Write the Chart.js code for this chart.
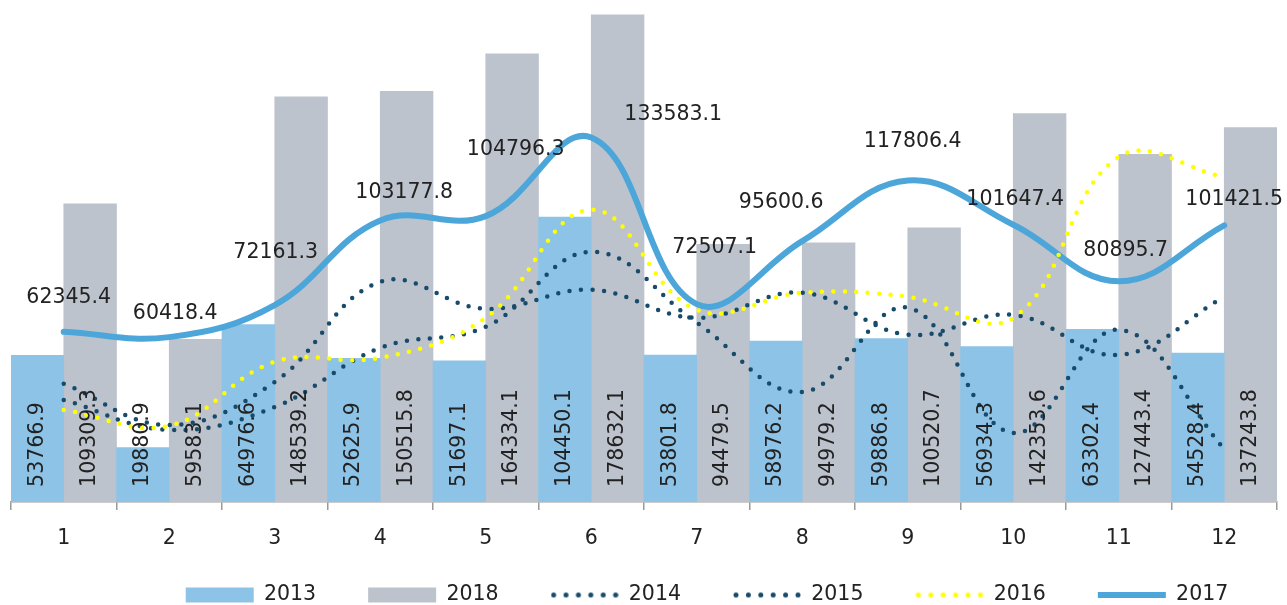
<!DOCTYPE html>
<html>
<head>
<meta charset="utf-8">
<script src="https://cdn.jsdelivr.net/npm/chart.js@4.4.1/dist/chart.umd.min.js"></script>
<style>
  html, body { margin: 0; padding: 0; background: #fff; overflow: hidden; }
  #wrap { width: 1287px; height: 649px; }
</style>
</head>
<body>
<div id="wrap"><canvas id="chart" width="1287" height="649"></canvas></div>
<script>
const months = ['1', '2', '3', '4', '5', '6', '7', '8', '9', '10', '11', '12'];

const sales2013 = [53766.9, 19880.9, 64976.6, 52625.9, 51697.1, 104450.1, 53801.8, 58976.2, 59886.8, 56934.3, 63302.4, 54528.4];
const sales2018 = [109309.3, 59583.1, 148539.2, 150515.8, 164334.1, 178632.1, 94479.5, 94979.2, 100520.7, 142353.6, 127443.4, 137243.8];
// 2014-2016 carry no labels in the source
const sales2014 = [43300, 28200, 44000, 80700, 70800, 77800, 67500, 76700, 61300, 68600, 53900, 75200];
const sales2015 = [37400, 26400, 34800, 56500, 64200, 91700, 65700, 40300, 71200, 25300, 63100, 19400];
const sales2016 = [33700, 27900, 51400, 52800, 67500, 107100, 70400, 76700, 75200, 67500, 126500, 119200];
const sales2017 = [62345.4, 60418.4, 72161.3, 103177.8, 104796.3, 133583.1, 72507.1, 95600.6, 117806.4, 101647.4, 80895.7, 101421.5];

const FONT = 'DejaVu Sans';
const FONT_SIZE = 20.5;
const TEXT = '#222';
const DOTS = '#174B6B';

// where the 2017 labels were dragged to, [dx, dy] from each point
const nudge2017 = [[5, -34], [6, -23], [1, -52], [24, -28], [30, -66], [82, -23],
                   [18, -56], [-21, -39], [5, -39], [2, -25], [7, -31], [10, -26]];

// legend swatch for the dotted series (legend ignores borderDash with point styles)
function dotSwatch(color) {
  const c = document.createElement('canvas');
  c.width = 68;
  c.height = 15;
  const g = c.getContext('2d');
  g.fillStyle = color;
  for (let k = 0; k < 6; k++) {
    g.beginPath();
    g.arc(3 + k * 12.4, 7.5, 2.5, 0, Math.PI * 2);
    g.fill();
  }
  return c;
}

const valueLabels = {
  id: 'valueLabels',
  afterDatasetsDraw(chart) {
    const ctx = chart.ctx;
    ctx.save();
    ctx.font = `${FONT_SIZE}px "${FONT}"`;
    ctx.fillStyle = TEXT;
    chart.data.datasets.forEach((ds, i) => {
      const meta = chart.getDatasetMeta(i);
      if (ds.type === 'bar') {
        meta.data.forEach((el, j) => {
          ctx.save();
          ctx.translate(el.x, el.base - 15);
          ctx.rotate(-Math.PI / 2);
          ctx.textAlign = 'left';
          ctx.textBaseline = 'middle';
          ctx.fillText(ds.data[j].toFixed(1), 0, 0);
          ctx.restore();
        });
      } else if (ds.label === '2017') {
        ctx.textAlign = 'center';
        ctx.textBaseline = 'middle';
        meta.data.forEach((el, j) => {
          const [dx, dy] = nudge2017[j];
          ctx.fillText(ds.data[j].toFixed(1), el.x + dx, el.y + dy);
        });
      }
    });
    ctx.restore();
  }
};

// legend in the source sits right of centre and close to the bottom edge
const legendShift = {
  id: 'legendShift',
  afterLayout(chart) {
    const l = chart.legend;
    const dx = 707 - (l.left + l.right) / 2;
    const dy = 595 - (l.top + l.options.labels.padding + FONT_SIZE / 2);
    l.left += dx;
    l.right += dx;
    l.top += dy;
    l.bottom += dy;
  }
};

const dotted = (label, data, color, order) => ({
  type: 'line', label, data, order,
  borderColor: color, backgroundColor: color,
  borderWidth: 4.5, borderDash: [0, 11.5], borderCapStyle: 'round',
  pointRadius: 0, pointHoverRadius: 0, pointStyle: dotSwatch(color),
  tension: 0.4, fill: false,
});

new Chart(document.getElementById('chart'), {
  type: 'bar',
  data: {
    labels: months,
    datasets: [
      { type: 'bar', label: '2013', data: sales2013, backgroundColor: '#8DC3E6', borderWidth: 0, pointStyle: 'rect', order: 10, categoryPercentage: 1, barPercentage: 1 },
      { type: 'bar', label: '2018', data: sales2018, backgroundColor: '#BDC3CD', borderWidth: 0, pointStyle: 'rect', order: 10, categoryPercentage: 1, barPercentage: 1 },
      dotted('2014', sales2014, DOTS, 2),
      dotted('2015', sales2015, DOTS, 1),
      dotted('2016', sales2016, '#FFFF00', 0),
      {
        type: 'line', label: '2017', data: sales2017, order: 3,
        borderColor: '#4CA6D9', backgroundColor: '#4CA6D9', borderWidth: 6, borderCapStyle: 'round',
        pointRadius: 0, pointHoverRadius: 0, pointStyle: 'line', tension: 0.4, fill: false,
      },
    ],
  },
  options: {
    responsive: false,
    animation: false,
    events: [],
    layout: { padding: { top: 11, left: 11, right: 10, bottom: 0 } },
    scales: {
      x: {
        offset: true,
        grid: { display: true, drawOnChartArea: false, drawTicks: true, tickLength: 8, color: '#999', lineWidth: 1.5, offset: true },
        border: { display: true, color: '#999', width: 1.5 },
        ticks: { color: TEXT, font: { family: FONT, size: FONT_SIZE }, padding: 16, maxRotation: 0 },
      },
      y: { display: false, min: 0, max: 180000 },
    },
    plugins: {
      tooltip: { enabled: false },
      legend: {
        position: 'bottom',
        labels: {
          usePointStyle: true, pointStyleWidth: 68, boxHeight: 15, padding: 52,
          color: TEXT, font: { family: FONT, size: FONT_SIZE },
          sort: (a, b) => a.datasetIndex - b.datasetIndex,
        },
      },
    },
  },
  plugins: [valueLabels, legendShift],
});
</script>
</body>
</html>
